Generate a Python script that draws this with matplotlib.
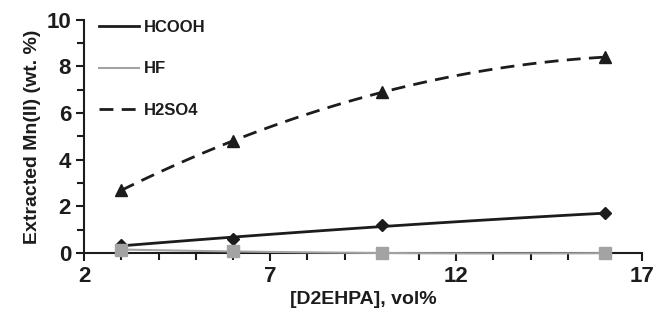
import numpy as np
from matplotlib import pyplot as plt
from matplotlib.ticker import MultipleLocator

plt.rcParams.update({"font.family": ["Liberation Sans", "DejaVu Sans"],
                     "font.weight": "bold"})

d2ehpa = [3, 6, 10, 16]
hcooh = [0.35, 0.6, 1.2, 1.7]
hf = [0.15, 0.08, 0.0, 0.0]
h2so4 = [2.7, 4.8, 6.9, 8.4]
xticks = [2, 7, 12, 17]
yticks = [0, 2, 4, 6, 8, 10]

dark = "#1c1c1c"
grey = "#a3a3a3"

fig = plt.figure(figsize=[6.58, 3.2], dpi=100)
ax = fig.add_axes([0.128, 0.209, 0.848, 0.729])

xs = np.linspace(min(d2ehpa), max(d2ehpa), 100)
# polynomial trendlines, as in the spreadsheet original
for y, col, ls, lw, mk, ms, name in [
        (hcooh, dark, "-", 2.0, "D", 6, "HCOOH"),
        (hf, grey, "-", 1.5, "s", 8, "HF"),
        (h2so4, dark, (0, (5, 3)), 2.0, "^", 8, "H2SO4")]:
    p = np.polyfit(d2ehpa, y, 2)
    ax.plot(xs, np.polyval(p, xs), color=col, linestyle=ls, lw=lw, label=name,
            clip_on=False, zorder=3)
    ax.plot(d2ehpa, y, linestyle="none", marker=mk, ms=ms, color=col,
            clip_on=False, zorder=4)

ax.set_xlim(2, 17)
ax.set_ylim(0, 10)
ax.set_xticks(xticks)
ax.set_yticks(yticks)
ax.xaxis.set_minor_locator(MultipleLocator(1))
ax.yaxis.set_minor_locator(MultipleLocator(1))
ax.tick_params(which="both", direction="out", color=dark, width=1.5,
               labelsize=16, labelcolor=dark)
ax.tick_params(which="major", length=6)
ax.tick_params(which="minor", length=5)
for lab in ax.get_xticklabels() + ax.get_yticklabels():
    lab.set_fontweight("bold")
for s in ["top", "right"]:
    ax.spines[s].set_visible(False)
for s in ["left", "bottom"]:
    ax.spines[s].set_linewidth(1.5)
    ax.spines[s].set_color(dark)

ax.set_xlabel("[D2EHPA], vol%", fontsize=14, fontweight="bold", color=dark,
              labelpad=3)
ax.set_ylabel("Extracted Mn(II) (wt. %)", fontsize=14, fontweight="bold",
              color=dark, labelpad=4)

leg = ax.legend(loc="upper left", bbox_to_anchor=(0.0, 1.065), frameon=False,
                prop={"size": 12, "weight": "bold"}, handlelength=2.4,
                handletextpad=0.3, labelspacing=1.6)
for t in leg.get_texts():
    t.set_color(dark)

plt.savefig("out.png", dpi=100)
